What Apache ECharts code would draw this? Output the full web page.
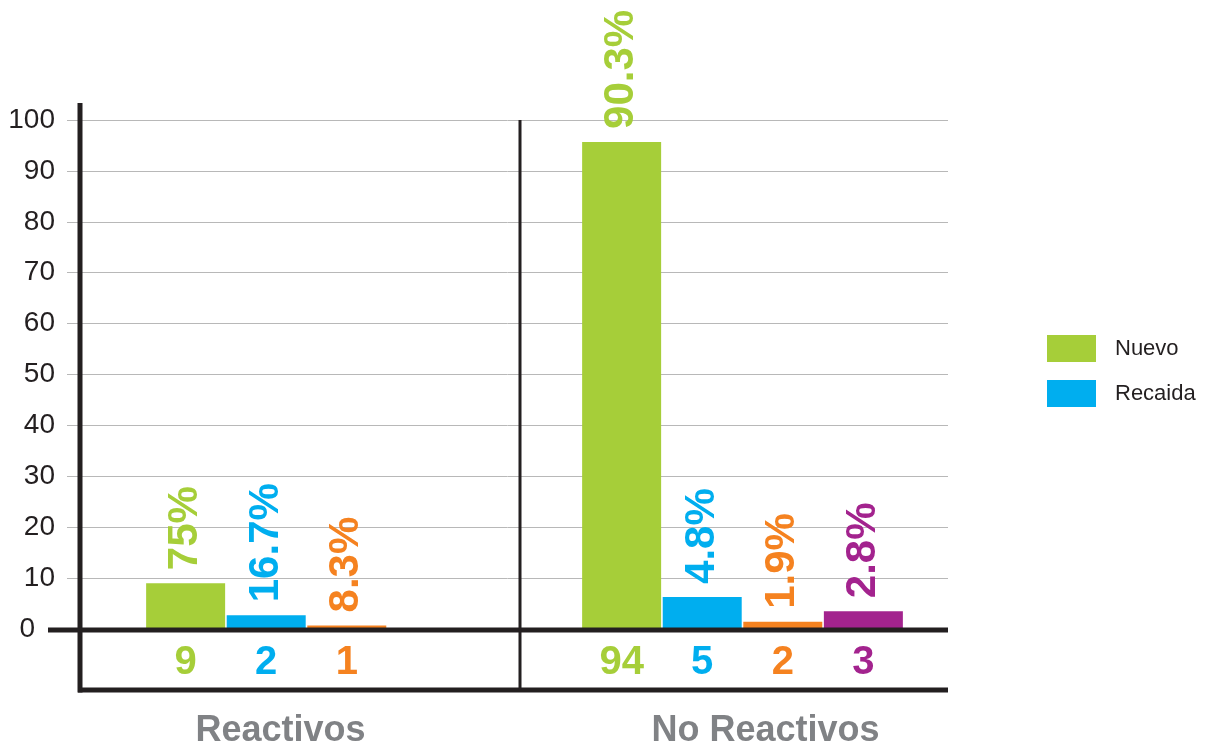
<!DOCTYPE html>
<html>
<head>
<meta charset="utf-8">
<script src="https://cdn.jsdelivr.net/npm/echarts@6/dist/echarts.min.js"></script>
<style>
html,body{margin:0;padding:0;background:#fff;}
#chart{width:1208px;height:745px;}
</style>
</head>
<body>
<div id="chart"></div>
<script>
// ---- data ----
const categories = ['Reactivos', 'No Reactivos'];
const seriesNames = ['Nuevo', 'Recaida', 'Serie 3', 'Serie 4'];
const barNuevo   = [9.0, 95.7];
const barRecaida = [2.7, 6.3];
const barSerie3  = [0.7, 1.4];
const barSerie4  = [null, 3.5];
const countNuevo   = [9, 94];
const countRecaida = [2, 5];
const countSerie3  = [1, 2];
const countSerie4  = [null, 3];
const pctNuevo   = ['75%', '90.3%'];
const pctRecaida = ['16.7%', '4.8%'];
const pctSerie3  = ['8.3%', '1.9%'];
const pctSerie4  = [null, '2.8%'];
const yTicks = [0, 10, 20, 30, 40, 50, 60, 70, 80, 90, 100];

const colors = ['#a6ce39', '#00aeef', '#f58220', '#a3238e'];
const bars = [barNuevo, barRecaida, barSerie3, barSerie4];
const counts = [countNuevo, countRecaida, countSerie3, countSerie4];
const pcts = [pctNuevo, pctRecaida, pctSerie3, pctSerie4];
const FONT = 'Liberation Sans, Arial, sans-serif';

const series = [];
bars.forEach((vals, i) => {
  series.push({
    name: seriesNames[i],
    type: 'bar',
    xAxisIndex: 1, yAxisIndex: 1,
    stack: 's' + i,
    barWidth: 79,
    barGap: '2%',
    itemStyle: { color: colors[i] },
    data: vals.map(v => v == null ? '-' : v),
    label: {
      show: true,
      position: ['50%', '100%'],
      offset: [0, 34],
      align: 'center',
      verticalAlign: 'middle',
      fontFamily: FONT,
      fontWeight: 'bold',
      fontSize: 40,
      color: colors[i],
      formatter: p => counts[i][p.dataIndex] == null ? '' : String(counts[i][p.dataIndex])
    },
    z: 3
  });
  series.push({
    name: seriesNames[i] + ' %',
    type: 'bar',
    xAxisIndex: 1, yAxisIndex: 1,
    stack: 's' + i,
    barWidth: 79,
    barGap: '2%',
    itemStyle: { color: colors[i] },
    data: vals.map(v => v == null ? '-' : 0),
    label: {
      show: true,
      position: 'top',
      distance: 13,
      rotate: 90,
      align: 'left',
      verticalAlign: 'middle',
      fontFamily: FONT,
      fontWeight: 'bold',
      fontSize: 42,
      color: colors[i],
      formatter: p => pcts[i][p.dataIndex] || ''
    },
    z: 3
  });
});

const chart = echarts.init(document.getElementById('chart'), null, { renderer: 'canvas' });
const option = {
  animation: false,
  backgroundColor: '#ffffff',
  legend: {
    data: ['Nuevo', 'Recaida'],
    orient: 'vertical',
    left: 1047,
    top: 335,
    itemWidth: 49,
    itemHeight: 27,
    itemGap: 18,
    padding: 0,
    icon: 'rect',
    selectedMode: false,
    textStyle: {
      fontFamily: FONT,
      fontSize: 22,
      color: '#231f20',
      padding: [0, 0, 0, 14]
    }
  },
  grid: [
    { left: 67, right: 260, top: 120, bottom: 116, containLabel: false, outerBoundsMode: 'none' },
    { left: 88.5, right: 247.5, top: 120, bottom: 116, containLabel: false, outerBoundsMode: 'none' }
  ],
  xAxis: [
    { gridIndex: 0, type: 'value', show: false, min: 0, max: 1 },
    {
      gridIndex: 1, type: 'category', data: categories,
      axisLine: { show: false }, axisTick: { show: false },
      axisLabel: {
        margin: 84,
        fontFamily: FONT,
        fontWeight: 'bold',
        fontSize: 36,
        color: '#808285',
        formatter: (v, idx) => idx === 0 ? '{a|' + v + '}' : '{b|' + v + '}',
        rich: {
          a: { fontFamily: FONT, fontWeight: 'bold', fontSize: 36, color: '#808285', padding: [0, 52, 0, 0] },
          b: { fontFamily: FONT, fontWeight: 'bold', fontSize: 36, color: '#808285', padding: [0, 0, 0, 46] }
        }
      }
    }
  ],
  yAxis: [
    {
      gridIndex: 0, type: 'value', min: yTicks[0], max: yTicks[yTicks.length - 1], interval: 10,
      axisLine: { show: false }, axisTick: { show: false },
      splitLine: { lineStyle: { color: '#b8b8b8', width: 1 } },
      axisLabel: {
        margin: 12,
        fontFamily: FONT,
        fontSize: 28,
        color: '#231f20',
        formatter: v => v === 0 ? '{z|0}' : String(v),
        rich: { z: { fontFamily: FONT, fontSize: 28, color: '#231f20', padding: [0, 20, 0, 0] } }
      }
    },
    {
      gridIndex: 1, type: 'value', min: yTicks[0], max: yTicks[yTicks.length - 1], interval: 10,
      show: false, splitLine: { show: false }
    }
  ],
  series: series
};
chart.setOption(option);

const zeroY = chart.convertToPixel({ yAxisIndex: 0 }, 0);
const topY = chart.convertToPixel({ yAxisIndex: 0 }, 100);
const bottomY = 690;
const lineColor = '#231f20';
chart.setOption({
  graphic: [
    { type: 'line', z: 10, shape: { x1: 80, y1: 103, x2: 80, y2: bottomY + 2.5 }, style: { stroke: lineColor, lineWidth: 5 } },
    { type: 'line', z: 10, shape: { x1: 48, y1: zeroY + 1, x2: 948, y2: zeroY + 1 }, style: { stroke: lineColor, lineWidth: 5 } },
    { type: 'line', z: 10, shape: { x1: 78, y1: bottomY, x2: 948, y2: bottomY }, style: { stroke: lineColor, lineWidth: 5 } },
    { type: 'line', z: 10, shape: { x1: 520, y1: topY, x2: 520, y2: bottomY }, style: { stroke: lineColor, lineWidth: 3 } }
  ]
});
</script>
</body>
</html>
